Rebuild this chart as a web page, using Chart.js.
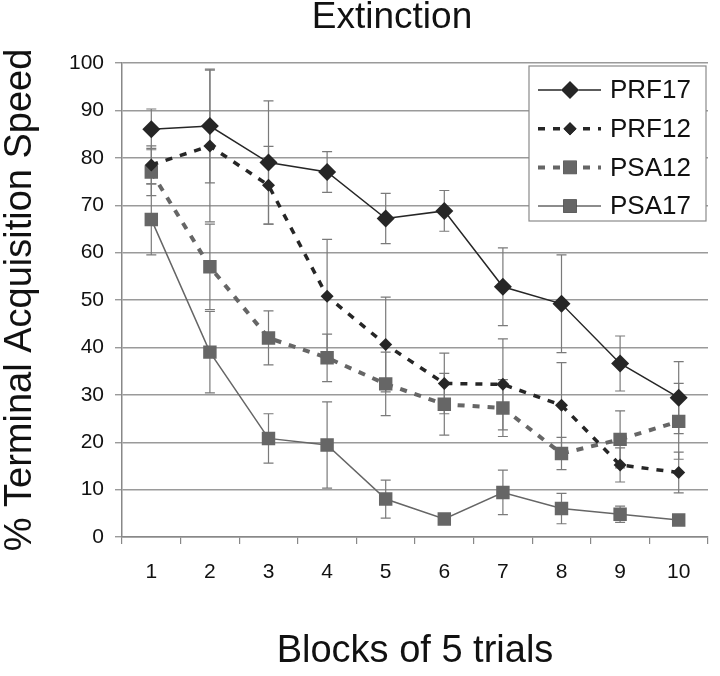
<!DOCTYPE html>
<html>
<head>
<meta charset="utf-8">
<script src="https://cdn.jsdelivr.net/npm/chart.js@4"></script>
<style>
  html, body { margin: 0; padding: 0; background: #fff; }
  #wrap { width: 720px; height: 676px; }
</style>
</head>
<body>
<div id="wrap"><canvas id="chart" width="720" height="676"></canvas></div>
<script>
// blocks of 5 trials
var blocks = ['1', '2', '3', '4', '5', '6', '7', '8', '9', '10'];

// means (% terminal acquisition speed)
var prf17 = [86, 86.7, 79, 77, 67.2, 68.8, 52.8, 49.2, 36.6, 29.4];
var prf12 = [78.5, 82.5, 74.2, 50.8, 40.6, 32.4, 32.2, 27.8, 15.2, 13.6];
var psa12 = [77, 57, 42, 37.8, 32.3, 28, 27.2, 17.6, 20.6, 24.4];
var psa17 = [67, 39, 20.8, 19.4, 8, 3.8, 9.4, 6, 4.8, 3.6];

// error bar half-lengths
var prf17Err = [4.3, 12, 13, 4.3, 5.3, 4.3, 8.2, 10.3, 5.8, 7.6];
var prf12Err = [4, 16, 8.2, 12, 10, 6.4, 9.6, 9, 3.6, 4.3];
var psa12Err = [5, 9, 5.7, 5, 6.7, 6.5, 6, 3.4, 6, 8];
var psa17Err = [7.5, 8.6, 5.2, 9.1, 4, 1, 4.7, 3.2, 1.7, 1];

var yTicks = [0, 10, 20, 30, 40, 50, 60, 70, 80, 90, 100];

var dark = '#262626';
var grey = '#666666';
var font = '"Liberation Sans", Arial, sans-serif';

var errorBars = {
    id: 'errorBars',
    beforeDatasetsDraw: function(chart) {
        var ctx = chart.ctx;
        var y = chart.scales.y;
        ctx.save();
        ctx.strokeStyle = '#7a7a7a';
        ctx.lineWidth = 1.2;
        chart.data.datasets.forEach(function(ds, i) {
            var meta = chart.getDatasetMeta(i);
            meta.data.forEach(function(pt, j) {
                var e = ds.err[j];
                var top = y.getPixelForValue(ds.data[j] + e);
                var bot = y.getPixelForValue(ds.data[j] - e);
                ctx.beginPath();
                ctx.moveTo(pt.x, top); ctx.lineTo(pt.x, bot);
                ctx.moveTo(pt.x - 5, top); ctx.lineTo(pt.x + 5, top);
                ctx.moveTo(pt.x - 5, bot); ctx.lineTo(pt.x + 5, bot);
                ctx.stroke();
            });
        });
        ctx.restore();
    }
};

// title sits a bit right of the canvas centre, so draw it by hand
var chartTitle = {
    id: 'chartTitle',
    afterDraw: function(chart) {
        var ctx = chart.ctx;
        ctx.save();
        ctx.fillStyle = '#111';
        ctx.font = '37px ' + font;
        ctx.textAlign = 'center';
        ctx.textBaseline = 'middle';
        ctx.fillText('Extinction', 392, 18);
        ctx.restore();
    }
};

// legend drawn inside the plot, line + marker like the original
var boxLegend = {
    id: 'boxLegend',
    afterDraw: function(chart) {
        var ctx = chart.ctx;
        var x0 = 529, y0 = 66, w = 177, h = 155;
        ctx.save();
        ctx.fillStyle = '#fff';
        ctx.fillRect(x0, y0, w, h);
        ctx.strokeStyle = '#8a8a8a';
        ctx.lineWidth = 1.2;
        ctx.strokeRect(x0, y0, w, h);
        chart.data.datasets.forEach(function(ds, i) {
            var cy = y0 + 24 + i * 38.7;
            ctx.strokeStyle = ds.borderColor;
            ctx.lineWidth = ds.borderWidth;
            ctx.setLineDash(ds.borderDash || []);
            ctx.beginPath();
            ctx.moveTo(x0 + 9, cy); ctx.lineTo(x0 + 72, cy);
            ctx.stroke();
            ctx.setLineDash([]);
            Chart.helpers.drawPoint(ctx, {
                pointStyle: ds.pointStyle,
                radius: ds.legendRadius,
                rotation: 0,
                borderWidth: 0
            }, x0 + 41, cy);
            ctx.fillStyle = ds.pointBackgroundColor;
            ctx.fill();
            ctx.fillStyle = '#111';
            ctx.font = '26px ' + font;
            ctx.textBaseline = 'middle';
            ctx.fillText(ds.label, x0 + 81, cy + 1);
        });
        ctx.restore();
    }
};

new Chart(document.getElementById('chart'), {
    type: 'line',
    data: {
        labels: blocks,
        datasets: [
            {label: 'PRF17', data: prf17, err: prf17Err, borderColor: dark, borderWidth: 1.5,
             pointStyle: 'rectRot', pointRadius: 9, legendRadius: 9,
             pointBackgroundColor: dark, pointBorderColor: dark, pointBorderWidth: 0},
            {label: 'PRF12', data: prf12, err: prf12Err, borderColor: dark, borderWidth: 3.5,
             borderDash: [7, 8], pointStyle: 'rectRot', pointRadius: 6.5, legendRadius: 6.5,
             pointBackgroundColor: dark, pointBorderColor: dark, pointBorderWidth: 0},
            {label: 'PSA12', data: psa12, err: psa12Err, borderColor: grey, borderWidth: 4,
             borderDash: [7, 8], pointStyle: 'rect', pointRadius: 9.5, legendRadius: 9.5,
             pointBackgroundColor: grey, pointBorderColor: grey, pointBorderWidth: 0},
            {label: 'PSA17', data: psa17, err: psa17Err, borderColor: grey, borderWidth: 1.5,
             pointStyle: 'rect', pointRadius: 9.5, legendRadius: 9.5,
             pointBackgroundColor: grey, pointBorderColor: grey, pointBorderWidth: 0}
        ]
    },
    options: {
        responsive: false,
        animation: false,
        layout: {padding: {left: 0, right: 12, top: 63, bottom: 0}},
        plugins: {
            legend: {display: false},
            tooltip: {enabled: false},
            title: {display: false}
        },
        scales: {
            x: {
                offset: true,
                grid: {offset: true, drawOnChartArea: false, color: '#888', tickLength: 7, lineWidth: 1.2},
                border: {color: '#888', width: 1.5},
                ticks: {color: '#111', font: {family: font, size: 21}, padding: 16},
                title: {display: true, text: 'Blocks of 5 trials', color: '#111',
                        font: {family: font, size: 38, lineHeight: 1}, padding: {top: 0, bottom: 5}},
                afterFit: function(s) { s.height = 139; }
            },
            y: {
                min: 0, max: 100,
                afterBuildTicks: function(s) { s.ticks = yTicks.map(function(v) { return {value: v}; }); },
                grid: {color: '#9a9a9a', lineWidth: 1.4, tickLength: 7},
                border: {color: '#888', width: 1.5},
                ticks: {color: '#111', font: {family: font, size: 21}, padding: 11},
                title: {display: true, text: '% Terminal Acquisition Speed', color: '#111',
                        font: {family: font, size: 38, lineHeight: 1}, padding: {top: 2, bottom: 0}},
                afterFit: function(s) { s.width = 122; }
            }
        }
    },
    plugins: [errorBars, boxLegend, chartTitle]
});
</script>
</body>
</html>
